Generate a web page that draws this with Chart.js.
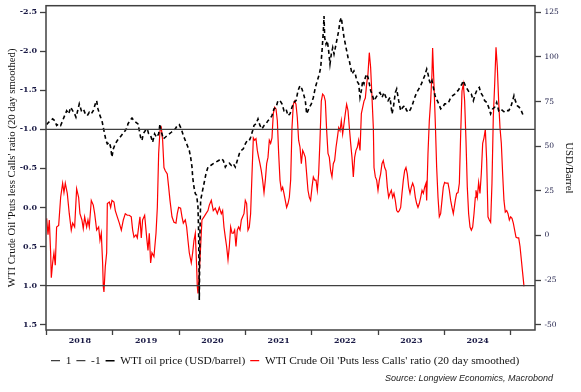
<!DOCTYPE html>
<html><head><meta charset="utf-8">
<script src="https://cdn.jsdelivr.net/npm/chart.js@4.4.1/dist/chart.umd.min.js"></script>
<style>html,body{margin:0;padding:0;background:#fff}canvas{display:block}</style>
</head><body>
<canvas id="c" width="581" height="392"></canvas>
<script>
// ---- data ----
const redYears = [
2018.000,2018.020,2018.040,2018.060,2018.070,2018.090,2018.110,2018.130,2018.150,2018.181,
2018.211,2018.241,2018.261,2018.281,2018.311,2018.341,2018.371,2018.392,2018.422,2018.452,
2018.482,2018.502,2018.532,2018.552,2018.573,2018.603,2018.623,2018.643,2018.673,2018.703,
2018.724,2018.754,2018.784,2018.804,2018.824,2018.844,2018.854,2018.864,2018.884,2018.905,
2018.915,2018.945,2018.965,2018.985,2019.015,2019.035,2019.065,2019.096,2019.126,2019.156,
2019.186,2019.216,
2019.246,2019.276,2019.297,2019.317,2019.347,2019.367,2019.387,2019.407,2019.427,2019.447,
2019.478,2019.508,2019.528,2019.548,2019.568,2019.588,2019.618,2019.649,2019.669,2019.689,
2019.709,2019.729,2019.749,2019.769,2019.789,2019.819,2019.840,2019.860,2019.890,2019.920,
2019.950,2019.970,2019.990,2020.020,2020.041,2020.061,2020.091,2020.111,2020.131,2020.151,
2020.181,2020.202,2020.222,2020.242,2020.262,2020.272,2020.282,2020.302,2020.322,2020.342,
2020.373,2020.403,2020.433,
2020.453,2020.483,2020.513,2020.543,2020.574,2020.604,2020.634,2020.654,2020.674,2020.694,
2020.714,2020.735,2020.755,2020.775,2020.795,2020.815,2020.835,2020.855,2020.875,2020.895,
2020.916,2020.936,2020.956,2020.976,2020.996,2021.016,2021.036,2021.056,2021.076,2021.097,
2021.117,2021.137,2021.157,2021.177,2021.197,2021.217,2021.237,2021.257,2021.278,2021.298,
2021.318,2021.338,2021.358,2021.378,2021.398,2021.418,2021.438,2021.459,2021.479,2021.499,
2021.519,2021.539,2021.559,2021.579,2021.599,2021.619,2021.640,2021.660,
2021.680,2021.700,2021.720,2021.740,2021.760,2021.780,2021.800,2021.821,2021.841,2021.861,
2021.881,2021.901,2021.921,2021.941,2021.961,2021.981,2022.002,2022.022,2022.042,2022.062,
2022.082,2022.102,2022.122,2022.142,2022.162,2022.183,2022.203,2022.223,2022.243,2022.263,
2022.283,2022.303,2022.323,2022.343,2022.364,2022.384,2022.404,2022.424,2022.444,2022.464,
2022.484,2022.504,2022.524,2022.545,2022.565,2022.585,2022.605,2022.625,2022.645,2022.665,
2022.685,2022.705,2022.726,2022.746,2022.766,2022.786,2022.806,2022.826,2022.846,2022.866,
2022.886,2022.907,
2022.927,2022.937,2022.957,2022.977,2022.997,2023.017,2023.037,2023.057,2023.077,2023.098,
2023.118,2023.138,2023.158,2023.178,2023.198,2023.218,2023.238,2023.258,2023.279,2023.299,
2023.319,2023.339,2023.359,2023.379,2023.399,2023.419,2023.439,2023.460,2023.480,2023.500,
2023.520,2023.540,2023.560,2023.580,2023.600,2023.620,2023.641,2023.661,2023.681,2023.701,
2023.721,2023.731,2023.751,2023.771,2023.791,2023.811,2023.821,2023.841,2023.862,2023.882,
2023.902,2023.922,2023.942,2023.962,2023.982,2024.002,2024.023,2024.053,2024.073,2024.093,
2024.113,2024.133,
2024.163,2024.183,2024.204,2024.224,2024.244,2024.264,2024.284,2024.304,2024.324,2024.344,
2024.364,2024.385,2024.405,2024.425,2024.445,2024.465,2024.475,2024.495,2024.515,2024.535,
2024.555,2024.576,2024.596,2024.616,2024.636,2024.656,2024.676,2024.696,2024.716,2024.736,
2024.757,2024.777,2024.797,2024.817,2024.837,2024.857,2024.877,2024.897,2024.917,2024.938,
2024.958,2024.978,2024.998,2025.018,2025.038,2025.058,2025.078,2025.098,2025.119,2025.139,
2025.159,2025.179,2025.199
];
const putCallRatio = [
0.14,0.35,0.16,0.58,0.90,0.71,0.58,0.74,0.25,0.23,
-0.13,-0.31,-0.19,-0.31,-0.18,0.08,0.29,0.20,0.25,-0.24,
-0.13,0.08,0.16,0.27,0.12,0.25,0.16,0.25,-0.09,-0.03,
0.08,0.29,0.25,0.42,0.33,0.71,1.01,1.08,0.76,0.58,
-0.05,-0.07,0.00,-0.09,-0.07,0.04,0.12,0.20,0.29,0.16,
0.08,0.10,
0.10,0.12,0.29,0.38,0.35,0.39,0.25,0.12,0.39,0.16,
0.10,0.38,0.55,0.33,0.71,0.58,0.63,0.33,0.00,-0.69,
-0.98,-1.02,-0.86,-0.51,-0.47,-0.43,-0.26,-0.09,0.12,0.19,
0.20,0.08,0.00,0.01,0.12,0.20,0.16,0.25,0.42,0.58,
0.71,0.58,0.42,0.33,0.76,1.01,1.10,0.84,0.50,0.16,
0.12,0.08,0.04,
-0.03,-0.09,0.04,0.01,0.08,0.00,0.08,0.04,0.25,0.38,
0.50,0.67,0.50,0.25,0.33,0.33,0.29,0.50,0.29,0.25,
0.29,0.16,0.12,0.08,-0.09,-0.05,0.29,0.25,0.08,-0.43,
-0.89,-0.86,-0.88,-0.73,-0.64,-0.56,-0.47,-0.35,-0.19,-0.35,
-0.56,-0.64,-0.86,-0.82,-0.89,-1.20,-1.28,-1.26,-1.11,-0.69,
-0.35,-0.22,-0.26,-0.18,-0.09,0.00,-0.05,-0.13,
-0.35,-1.02,-1.32,-1.36,-1.32,-1.15,-0.86,-0.77,-0.56,-0.73,
-0.69,-0.64,-0.43,-0.22,-0.13,-0.09,-0.26,-0.39,-0.35,-0.35,
-0.22,-0.43,-0.86,-1.36,-1.45,-1.43,-1.36,-0.98,-0.69,-0.64,
-0.47,-0.39,-0.56,-0.60,-0.77,-0.89,-1.02,-0.98,-1.11,-0.94,
-1.07,-1.20,-1.32,-1.24,-1.02,-0.82,-0.64,-0.39,-0.64,-0.73,
-0.77,-0.86,-0.73,-1.20,-1.28,-1.36,-1.40,-1.58,-1.71,-1.98,
-1.79,-1.40,
-1.02,-0.51,-0.39,-0.35,-0.22,-0.35,-0.43,-0.56,-0.60,-0.51,
-0.47,-0.26,-0.13,-0.18,-0.22,-0.13,-0.18,-0.09,0.04,0.06,
0.04,0.00,-0.18,-0.35,-0.47,-0.51,-0.43,-0.26,-0.18,-0.26,
-0.31,-0.26,-0.13,-0.05,0.00,-0.05,-0.13,-0.22,-0.18,-0.26,
-0.31,-0.09,-0.69,-1.11,-1.36,-1.71,-2.04,-1.58,-1.07,-0.51,
-0.13,0.12,0.08,-0.09,-0.26,-0.32,-0.31,-0.31,-0.22,-0.09,
0.00,0.08,
-0.09,-0.18,-0.19,-0.31,-0.94,-1.49,-1.58,-1.36,-0.86,-0.26,
0.08,0.25,0.29,0.25,0.08,-0.13,-0.22,-0.13,-0.32,-0.18,
-0.43,-0.82,-0.89,-1.00,-0.60,0.12,0.16,0.19,-0.31,-1.15,
-1.58,-2.05,-1.79,-1.36,-1.02,-0.82,-0.43,-0.09,0.06,0.04,
0.08,0.16,0.12,0.14,0.20,0.29,0.38,0.39,0.39,0.50,
0.67,0.84,1.01
];
const oilYears = [
2018.000,2018.030,2018.060,2018.090,2018.121,2018.151,2018.181,2018.211,2018.241,2018.271,
2018.302,2018.332,2018.362,2018.392,2018.422,2018.442,2018.462,2018.492,2018.523,2018.553,
2018.583,2018.613,2018.643,2018.673,2018.703,2018.734,2018.754,2018.774,2018.804,2018.834,
2018.854,2018.874,2018.895,2018.915,2018.945,2018.965,2018.985,2019.005,2019.035,2019.065,
2019.106,2019.146,2019.186,2019.216,2019.226,2019.256,2019.287,2019.317,2019.347,2019.377,
2019.397,2019.417,2019.437,2019.457,2019.488,2019.518,2019.538,2019.568,2019.598,2019.628,
2019.658,2019.689,2019.709,2019.719,2019.739,2019.759,2019.789,2019.819,2019.850,2019.880,
2019.910,2019.940,2019.970,2020.000,2020.030,2020.061,2020.091,2020.121,2020.151,2020.171,
2020.192,2020.202,2020.222,2020.242,2020.262,2020.282,2020.292,2020.302,2020.312,2020.322,
2020.342,2020.362,2020.383,2020.403,2020.433,2020.473,2020.513,2020.554,2020.594,2020.634,
2020.664,2020.694,2020.725,2020.755,2020.785,2020.815,2020.845,2020.875,2020.906,2020.936,
2020.966,2020.996,2021.026,2021.056,2021.077,2021.107,2021.127,2021.157,2021.187,2021.217,
2021.247,2021.278,2021.308,2021.338,2021.368,2021.398,2021.428,2021.459,2021.489,2021.519,
2021.549,2021.579,2021.610,2021.640,2021.670,2021.700,2021.730,2021.761,2021.791,2021.821,
2021.851,2021.881,2021.901,2021.921,2021.942,2021.962,2021.992,2022.022,2022.052,2022.082,
2022.112,2022.133,2022.153,2022.173,2022.183,2022.193,2022.213,2022.233,2022.253,2022.273,
2022.293,2022.314,2022.334,2022.354,2022.374,2022.404,2022.424,2022.444,2022.464,2022.485,
2022.505,2022.525,2022.545,2022.565,2022.585,2022.605,2022.635,2022.656,2022.676,2022.706,
2022.726,2022.746,2022.766,2022.786,2022.806,2022.827,2022.847,2022.867,2022.887,2022.907,
2022.937,2022.967,2022.997,2023.027,2023.058,2023.088,2023.118,2023.148,2023.178,2023.209,
2023.229,2023.259,2023.279,2023.309,2023.339,2023.370,2023.400,2023.430,2023.460,2023.490,
2023.520,2023.551,2023.581,2023.611,2023.641,2023.671,2023.701,2023.732,2023.752,2023.772,
2023.792,2023.812,2023.832,2023.852,2023.872,2023.892,2023.913,2023.943,2023.973,2024.003,
2024.033,2024.063,2024.094,2024.124,2024.154,2024.173,2024.203,2024.234,2024.264,2024.284,
2024.314,2024.344,2024.374,2024.404,2024.435,2024.465,2024.495,2024.525,2024.545,2024.575,
2024.606,2024.636,2024.666,2024.696,2024.726,2024.756,2024.787,2024.817,2024.847,2024.877,
2024.907,2024.937,2024.968,2024.998,2025.028,2025.048,2025.068,2025.098,2025.128,2025.158,
2025.188
];
const oilPrice = [
62.1,63.4,64.3,65.3,64.3,61.6,62.5,61.6,64.3,67.1,
69.9,68.1,71.8,69.9,68.1,66.2,69.0,73.7,69.9,70.9,
68.1,67.1,69.0,68.1,69.9,73.7,75.5,70.9,67.1,64.3,
60.6,56.9,53.2,51.3,52.2,49.4,43.9,48.5,51.3,53.2,
55.0,56.9,58.8,60.6,62.5,64.3,65.8,64.3,63.4,62.5,
58.8,55.0,53.2,56.9,58.8,59.7,56.9,56.0,52.2,56.9,
55.0,56.9,62.5,58.8,56.9,54.1,55.0,56.0,56.9,57.8,
58.8,59.7,61.6,62.1,59.7,56.0,53.2,50.4,47.6,43.9,
38.3,32.7,27.1,23.4,22.5,16.0,1.1,-36.1,1.3,19.7,
23.4,27.1,30.9,34.6,38.3,39.2,40.2,41.1,42.0,43.0,
42.0,38.3,40.2,40.5,39.2,40.2,38.3,42.0,45.8,47.6,
48.5,51.3,53.2,53.2,55.0,58.8,61.6,62.5,65.3,61.6,
59.7,61.6,62.5,64.3,65.3,67.1,70.9,71.8,75.5,75.5,
73.7,69.9,70.9,67.1,68.1,71.8,74.6,75.5,81.1,83.9,
82.0,78.3,75.5,68.1,69.9,71.8,73.7,77.3,82.9,86.7,
90.4,94.1,103.4,114.6,122.9,110.8,107.1,109.0,103.4,96.0,
101.6,105.2,101.6,105.2,109.0,114.6,120.1,122.0,116.4,110.8,
107.1,103.4,99.7,97.8,94.1,90.4,92.2,90.4,86.7,84.9,
77.3,81.1,86.7,84.9,88.5,90.4,88.5,84.9,81.1,79.2,
75.5,77.3,79.2,80.1,77.3,80.1,77.3,75.5,77.3,68.1,
71.8,80.1,82.0,75.5,69.9,71.8,72.7,69.9,69.0,70.9,
73.7,77.3,80.1,82.0,83.9,86.7,89.5,93.2,90.4,86.7,
84.9,86.7,82.9,79.2,76.4,75.5,73.7,70.9,71.8,73.7,
73.7,74.6,77.3,78.3,79.2,80.1,81.1,82.9,84.9,86.7,
83.9,82.0,80.1,79.2,75.5,79.2,82.0,82.9,80.1,78.3,
75.5,74.6,71.8,68.1,70.9,71.8,74.6,69.9,70.9,69.9,
69.0,69.9,69.9,71.8,75.5,78.3,75.5,72.7,71.8,69.9,
67.1
];
const refLevels = [1, -1];
const refLabels = ['1', '-1'];
const yearTicks = [2018, 2019, 2020, 2021, 2022, 2023, 2024, 2025];
const ratioTicks = [-2.5, -2.0, -1.5, -1.0, -0.5, 0, 0.5, 1.0, 1.5];
const usdTicks = [-50, -25, 0, 25, 50, 75, 100, 125];
const seriesLabels = ['WTI oil price (USD/barrel)', "WTI Crude Oil 'Puts less Calls' ratio (20 day smoothed)"];
const leftTitle = "WTI Crude Oil 'Puts less Calls' ratio (20 day smoothed)";
const rightTitle = 'USD/Barrel';
const sourceText = 'Source: Longview Economics, Macrobond';

// ---- chart config ----
const xRange = [2017.99, 2025.365];
const ratioRange = [-2.581, 1.568];
const usdRange = [-52.97, 128.7];
const AX = '#404040';
const TICKCOL = '#1a1a45';
const serif = '"DejaVu Serif", serif';
const tserif = '"Liberation Serif", serif';

const framePlugin = {
  id: 'frame',
  afterDatasetsDraw(chart) {
    const {ctx, chartArea: a} = chart;
    ctx.save();
    ctx.strokeStyle = AX; ctx.lineWidth = 1.5;
    ctx.strokeRect(a.left, a.top, a.right - a.left, a.bottom - a.top);
    ctx.restore();
  }
};
const sourcePlugin = {
  id: 'source',
  afterDraw(chart) {
    const ctx = chart.ctx;
    ctx.save();
    ctx.font = 'italic 9px "Liberation Sans", Arial, sans-serif';
    ctx.fillStyle = '#222';
    ctx.textAlign = 'right'; ctx.textBaseline = 'middle';
    ctx.fillText(sourceText, 553, 378);
    ctx.restore();
  }
};

const refSets = refLevels.map((v, i) => ({
  label: refLabels[i],
  data: [{x: xRange[0], y: v}, {x: xRange[1], y: v}],
  yAxisID: 'y', borderColor: AX, borderWidth: 1.3, pointRadius: 0
}));

new Chart(document.getElementById('c'), {
  type: 'line',
  data: {
    datasets: [
      ...refSets,
      { label: seriesLabels[0], data: oilYears.map((x, i) => ({x, y: oilPrice[i]})),
        yAxisID: 'y2', borderColor: '#000', borderWidth: 1.6, borderDash: [4, 3], pointRadius: 0 },
      { label: seriesLabels[1], data: redYears.map((x, i) => ({x, y: putCallRatio[i]})),
        yAxisID: 'y', borderColor: '#ff0000', borderWidth: 1.2, pointRadius: 0 }
    ]
  },
  options: {
    responsive: false, animation: false, devicePixelRatio: 1,
    events: [],
    elements: { line: { tension: 0 } },
    layout: { padding: { top: 5.7, bottom: 15.6, left: 0, right: 0 } },
    plugins: {
      tooltip: { enabled: false },
      legend: {
        position: 'bottom', align: 'start', fullSize: false,
        labels: { usePointStyle: true, pointStyle: 'line', pointStyleWidth: 9, padding: 5,
          color: '#111', font: { family: tserif, size: 11.4 } }
      }
    },
    scales: {
      x: {
        type: 'linear', min: xRange[0], max: xRange[1],
        afterBuildTicks: s => {
          const t = [];
          yearTicks.forEach((y, i) => { t.push({value: y}); if (i < yearTicks.length - 1) t.push({value: y + 0.5}); });
          s.ticks = t;
        },
        afterFit: s => { s.height = 20; s.paddingLeft = 0; s.paddingRight = 0; },
        ticks: { autoSkip: false, maxRotation: 0, minRotation: 0, padding: 1, color: TICKCOL,
          font: { family: serif, size: 8, weight: 'bold' },
          callback: v => (Math.abs((v % 1) - 0.5) < 1e-6) ? String(Math.floor(v)) : '' },
        grid: { drawOnChartArea: false, tickLength: 5, tickWidth: 1.3,
          tickColor: c => (c.tick && Math.abs(c.tick.value % 1) < 1e-6) ? AX : 'rgba(0,0,0,0)' },
        border: { display: false }
      },
      y: {
        type: 'linear', position: 'left', reverse: true, min: ratioRange[0], max: ratioRange[1],
        afterBuildTicks: s => { s.ticks = ratioTicks.map(v => ({value: v})); },
        afterFit: s => { s.width = 46; s.paddingTop = 0; s.paddingBottom = 0; },
        ticks: { padding: 3, color: TICKCOL, font: { family: serif, size: 8, weight: 'bold' },
          callback: v => Number(v).toFixed(1) },
        grid: { drawOnChartArea: false, tickLength: 6, tickWidth: 1.3, tickColor: AX },
        border: { display: false },
        title: { display: true, text: leftTitle, color: '#111', font: { family: tserif, size: 10.7 }, padding: { top: 5.3, bottom: 0 } }
      },
      y2: {
        type: 'linear', position: 'right', min: usdRange[0], max: usdRange[1],
        afterBuildTicks: s => { s.ticks = usdTicks.map(v => ({value: v})); },
        afterFit: s => { s.width = 46; s.paddingTop = 0; s.paddingBottom = 0; },
        ticks: { padding: 3.5, color: TICKCOL, font: { family: serif, size: 7.5 } },
        grid: { drawOnChartArea: false, tickLength: 6, tickWidth: 1.3, tickColor: AX },
        border: { display: false },
        title: { display: true, text: rightTitle, color: '#111', font: { family: tserif, size: 10.7 }, padding: { top: 5.6, bottom: 0 } }
      }
    }
  },
  plugins: [framePlugin, sourcePlugin]
});
</script>
</body></html>
